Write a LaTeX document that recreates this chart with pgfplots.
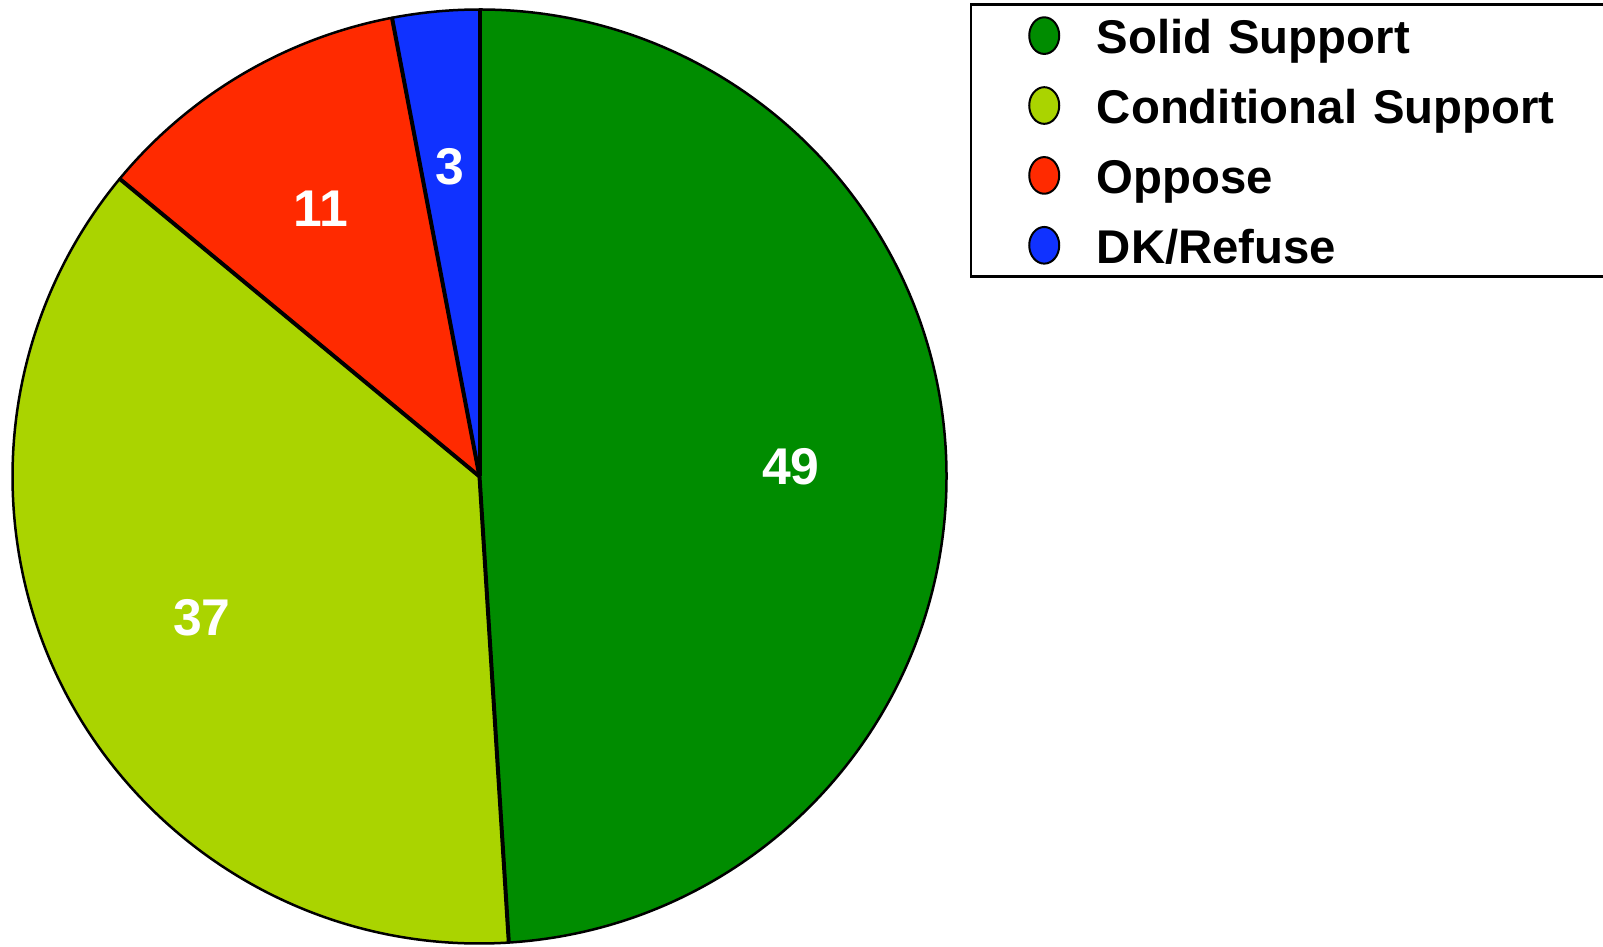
\documentclass[border=0pt]{standalone}
\usepackage{fontspec}
\setmainfont{Liberation Sans}
\usepackage{pgfplots}
\usepackage{pgfplotstable}
\pgfplotsset{compat=1.18}

\definecolor{slice0}{RGB}{0,140,0}
\definecolor{slice1}{RGB}{170,212,0}
\definecolor{slice2}{RGB}{255,42,0}
\definecolor{slice3}{RGB}{16,50,255}

% share of respondents, clockwise from 12 o'clock
\pgfplotstableread{
value label
49 {Solid Support}
37 {Conditional Support}
11 Oppose
3 DK/Refuse
}\piedata

\tikzset{
  pieslice/.style={draw=black, line width=0.75pt, line join=round},
  pieedge/.style={draw=black, line width=1.2pt},
  pielabel/.style={text=white, font=\bfseries\fontsize{15.5}{18}\selectfont, inner sep=0pt},
}

\begin{document}
\begin{tikzpicture}
\begin{axis}[
    name=pie,
    x=1pt, y=1pt,
    xmin=-143.85, xmax=337.05,
    ymin=-140.85, ymax=142.95,
    hide axis,
    clip=false,
    legend cell align=left,
    legend style={
        at={(0.6051,0.9968)}, anchor=north west,
        draw=black, line width=0.75pt,
        inner xsep=17.4pt, inner ysep=2.9pt,
        row sep=7.97pt,
        font=\bfseries\fontsize{14.2}{16}\selectfont,
        nodes={inner sep=0pt, text height=12pt, text depth=1pt},
        /tikz/every odd column/.append style={column sep=11.3pt},
        /tikz/every even column/.append style={text width=145pt},
    },
]
\def\R{140.1}
\gdef\startangle{90}
\pgfplotsinvokeforeach{0,...,3}{
  \pgfplotstablegetelem{#1}{value}\of\piedata
  \pgfmathsetmacro\aend{\startangle - 3.6*\pgfplotsretval}
  \pgfmathsetmacro\amid{(\startangle + \aend)/2}
  \edef\temp{%
    \noexpand\filldraw[pieslice, fill=slice#1] (axis cs:0,0)
      -- (axis cs:{\R*cos(\startangle)},{\R*sin(\startangle)})
      arc[start angle=\startangle, end angle=\aend, radius=\R] -- cycle;
    \noexpand\node[pielabel] at (axis cs:{0.667*\R*cos(\amid)},{0.667*\R*sin(\amid)}) {\pgfplotsretval};
  }
  \temp
  \xdef\startangle{\aend}
}
% slice boundaries drawn on top, a little heavier than the rim
\gdef\startangle{90}
\pgfplotsinvokeforeach{0,...,3}{
  \pgfplotstablegetelem{#1}{value}\of\piedata
  \edef\temp{%
    \noexpand\draw[pieedge] (axis cs:0,0)
      -- (axis cs:{\R*cos(\startangle)},{\R*sin(\startangle)});
  }
  \temp
  \pgfmathsetmacro\aend{\startangle - 3.6*\pgfplotsretval}
  \xdef\startangle{\aend}
}

\addlegendimage{only marks, mark=*, mark size=5pt, mark options={fill=slice0, draw=black, line width=0.6pt, xscale=0.9, yscale=1.1}}
\addlegendentry{Solid Support}
\addlegendimage{only marks, mark=*, mark size=5pt, mark options={fill=slice1, draw=black, line width=0.6pt, xscale=0.9, yscale=1.1}}
\addlegendentry{Conditional Support}
\addlegendimage{only marks, mark=*, mark size=5pt, mark options={fill=slice2, draw=black, line width=0.6pt, xscale=0.9, yscale=1.1}}
\addlegendentry{Oppose}
\addlegendimage{only marks, mark=*, mark size=5pt, mark options={fill=slice3, draw=black, line width=0.6pt, xscale=0.9, yscale=1.1}}
\addlegendentry{DK/Refuse}
\end{axis}
\pgfresetboundingbox
\path (pie.south west) rectangle (pie.north east);
\end{tikzpicture}
\end{document}
